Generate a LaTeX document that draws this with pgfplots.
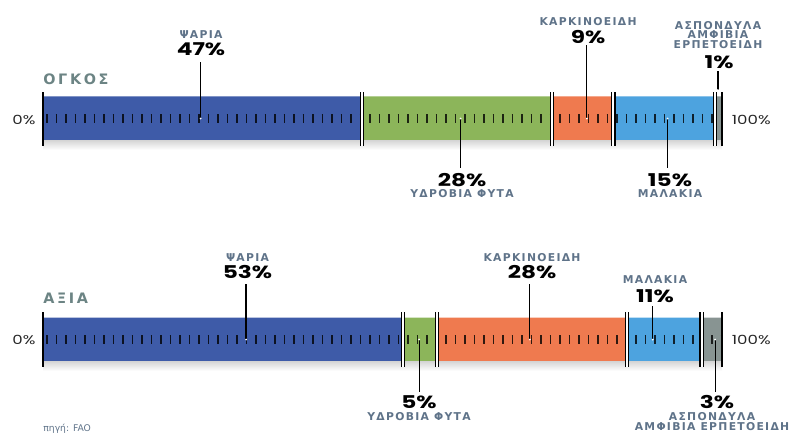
\documentclass[border=0pt]{standalone}
\usepackage{fontspec}
\usepackage{pgfplots}
\pgfplotsset{compat=1.18}
\setmainfont{DejaVu Sans}
\newfontfamily\lblfont{DejaVu Sans}[LetterSpace=12]
\newfontfamily\headfont{DejaVu Sans}[LetterSpace=18]
\newfontfamily\pctfont{Poppins}[FakeStretch=1.32]
\definecolor{cBlue}{HTML}{3E5BA8}
\definecolor{cGreen}{HTML}{8CB55A}
\definecolor{cOrange}{HTML}{EF7A4F}
\definecolor{cLight}{HTML}{4DA3DF}
\definecolor{cGray}{HTML}{889492}
\definecolor{cName}{HTML}{5F7389}
\definecolor{cHead}{HTML}{6C8484}

% separator between two segments: x (percent), top y, bottom y (pixel rows)
\newcommand\sepd[3]{%
  \fill[white] ([xshift=-0.8pt]axis cs:#1,#2) rectangle ([xshift=0.8pt]axis cs:#1,#3);
  \draw[line width=0.55pt] ([xshift=-0.8pt]axis cs:#1,#2) -- ([xshift=-0.8pt]axis cs:#1,#3);
  \draw[line width=0.55pt] ([xshift=0.8pt]axis cs:#1,#2) -- ([xshift=0.8pt]axis cs:#1,#3);}
\newcommand\seps[3]{%
  \draw[line width=0.55pt] (axis cs:#1,#2) -- (axis cs:#1,#3);}
% callout line from bar centre to label
\newcommand\callout[3]{%
  \draw[line width=0.6pt] (axis cs:#1,#2) -- (axis cs:#1,#3);
  \fill[white] (axis cs:#1,#2) circle (0.5pt);}

\tikzset{
  catlbl/.style={font=\lblfont\bfseries\fontsize{5.4}{6}\selectfont, text=cName, inner sep=0pt, align=center},
  pctlbl/.style={font=\pctfont\bfseries\fontsize{8.8}{9}\selectfont, text=black, inner sep=0pt},
  headlbl/.style={font=\headfont\bfseries\fontsize{7.2}{8}\selectfont, text=cHead, inner sep=0pt, anchor=west},
  endlbl/.style={font=\pctfont\fontsize{6.3}{7}\selectfont, text=black!85, inner sep=0pt},
}
\pgfplotsset{frame/.style={
  scale only axis,
  width=397pt, height=216.5pt,
  xmin=-6.333, xmax=110.604,
  ymin=0, ymax=433, y dir=reverse,
  hide axis, clip=false}}

\begin{document}
\begin{tikzpicture}
% the bars: rows 118.5 = ΟΓΚΟΣ (volume), 339.5 = ΑΞΙΑ (value)
\begin{axis}[frame, xbar stacked, bar width=22pt]
\coordinate (bbA) at (rel axis cs:0,0);
\coordinate (bbB) at (rel axis cs:1,1);
\addplot[fill=cBlue, draw=none] coordinates {(47,118.5) (53,339.5)};
\addplot[fill=cGreen, draw=none] coordinates {(28,118.5) (5,339.5)};
\addplot[fill=cOrange, draw=none] coordinates {(9,118.5) (28,339.5)};
\addplot[fill=cLight, draw=none] coordinates {(15,118.5) (11,339.5)};
\addplot[fill=cGray, draw=none] coordinates {(1,118.5) (3,339.5)};
\end{axis}

% rulers, separators, callouts and labels on top
\begin{axis}[frame]
\shade[top color=black!16, bottom color=white] (axis cs:0,140.5) rectangle (axis cs:100,150);
\shade[top color=black!16, bottom color=white] (axis cs:0,361.5) rectangle (axis cs:100,371);

\draw[black, opacity=0.8, line width=4.5pt, dash pattern=on 0.7pt off 4.05pt, dash phase=-1.6pt]
  (axis cs:0,118.5) -- (axis cs:100,118.5);
\draw[black, opacity=0.8, line width=4.5pt, dash pattern=on 0.7pt off 4.05pt, dash phase=-1.6pt]
  (axis cs:0,339.5) -- (axis cs:100,339.5);

\seps{0}{92}{146}
\sepd{47}{92}{146}\sepd{75}{92}{146}\sepd{84}{92}{146}\sepd{99}{92}{146}
\seps{100}{92}{146}
\seps{0}{312}{367}
\sepd{53}{312}{367}\sepd{58}{312}{367}\sepd{86}{312}{367}\sepd{97}{312}{367}
\seps{100}{312}{367}

\callout{23.2}{118.5}{62}
\callout{80.1}{118.5}{45}
\callout{99.4}{90}{71}
\callout{61.5}{118.5}{168}
\callout{92.0}{118.5}{168}
\callout{29.9}{339.5}{284}
\callout{71.7}{339.5}{284}
\callout{89.8}{339.5}{306}
\callout{55.4}{339.5}{392}
\callout{99.0}{339.5}{392}

% labels, top
\node[catlbl] at (axis cs:23.27,35) {ΨΑΡΙΑ};
\node[pctlbl] at (axis cs:23.27,49) {47\%};
\node[catlbl] at (axis cs:80.27,22) {ΚΑΡΚΙΝΟΕΙΔΗ};
\node[pctlbl] at (axis cs:80.27,37) {9\%};
\node[catlbl] at (axis cs:99.41,25.5) {ΑΣΠΟΝΔΥΛΑ};
\node[catlbl] at (axis cs:99.41,35) {ΑΜΦΙΒΙΑ};
\node[catlbl] at (axis cs:99.41,44.5) {ΕΡΠΕΤΟΕΙΔΗ};
\node[pctlbl] at (axis cs:99.56,62) {1\%};
\node[pctlbl] at (axis cs:61.71,180) {28\%};
\node[catlbl] at (axis cs:61.71,194) {ΥΔΡΟΒΙΑ ΦΥΤΑ};
\node[pctlbl] at (axis cs:92.34,180) {15\%};
\node[catlbl] at (axis cs:92.34,194) {ΜΑΛΑΚΙΑ};
\node[headlbl] at (axis cs:0,79) {ΟΓΚΟΣ};
\node[endlbl] at (axis cs:-2.8,120) {0\%};
\node[endlbl] at (axis cs:104.3,120) {100\%};

% labels, bottom
\node[catlbl] at (axis cs:30.12,258) {ΨΑΡΙΑ};
\node[pctlbl] at (axis cs:30.12,272) {53\%};
\node[catlbl] at (axis cs:72.02,258) {ΚΑΡΚΙΝΟΕΙΔΗ};
\node[pctlbl] at (axis cs:72.02,272) {28\%};
\node[catlbl] at (axis cs:90.13,280) {ΜΑΛΑΚΙΑ};
\node[pctlbl] at (axis cs:90.13,296) {11\%};
\node[pctlbl] at (axis cs:55.38,402) {5\%};
\node[catlbl] at (axis cs:55.38,417) {ΥΔΡΟΒΙΑ ΦΥΤΑ};
\node[pctlbl] at (axis cs:99.26,402) {3\%};
\node[catlbl] at (axis cs:98.53,417) {ΑΣΠΟΝΔΥΛΑ};
\node[catlbl] at (axis cs:98.53,426.5) {ΑΜΦΙΒΙΑ ΕΡΠΕΤΟΕΙΔΗ};
\node[headlbl] at (axis cs:0,298) {ΑΞΙΑ};
\node[endlbl] at (axis cs:-2.8,340) {0\%};
\node[endlbl] at (axis cs:104.3,340) {100\%};
\node[font=\fontsize{4.6}{5}\selectfont, text=cName, inner sep=0pt, anchor=north west] at (axis cs:0,424) {πηγή: FAO};
\end{axis}
\pgfresetboundingbox
\useasboundingbox (bbA) rectangle (bbB);
\end{tikzpicture}
\end{document}
